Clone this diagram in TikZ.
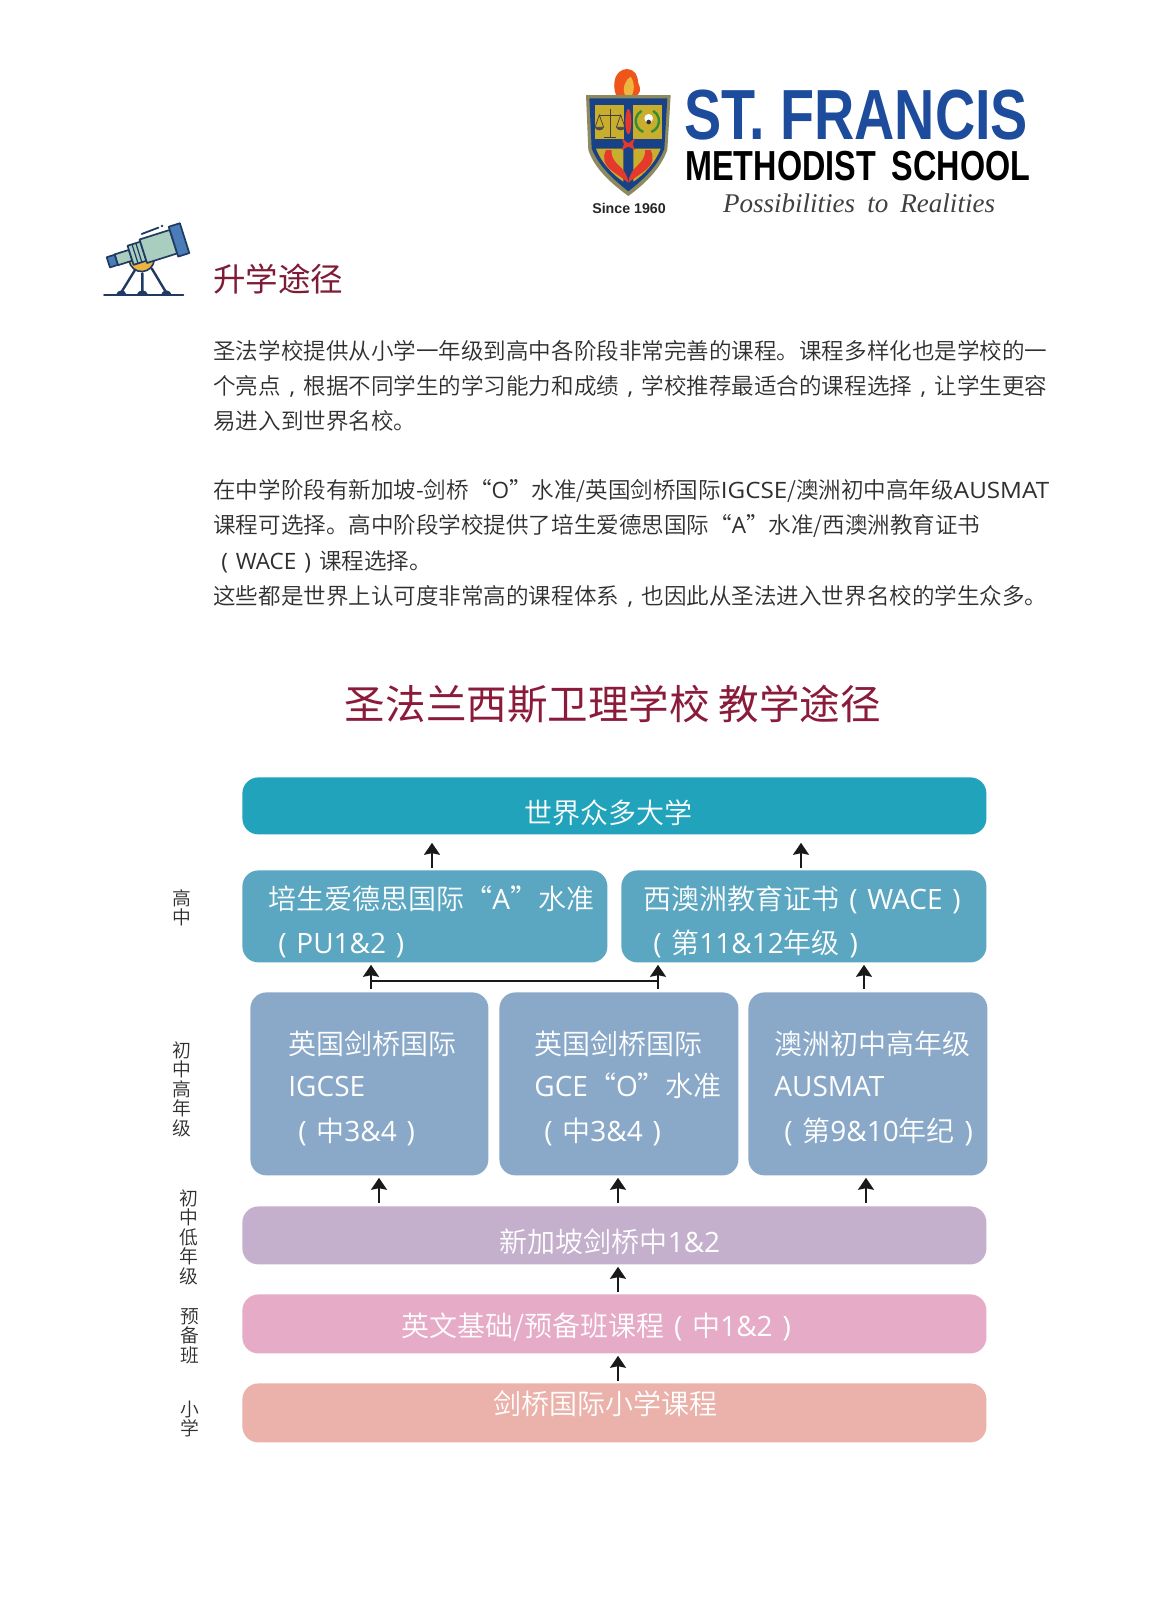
\documentclass[tikz,border=0pt]{standalone}
\usepackage{fontspec}
\usepackage{graphicx}
\usetikzlibrary{arrows.meta}
\IfFontExistsTF{Noto Sans CJK SC DemiLight}{\setmainfont{Noto Sans CJK SC DemiLight}}{\setmainfont{Noto Sans CJK SC}}
\newfontfamily\latf{Open Sans}
\newfontfamily\cjkreg{Noto Sans CJK SC}
\newfontfamily\logosans{Liberation Sans}
\newfontfamily\logoserif{Liberation Serif}
\newcommand{\lat}[1]{{\latf #1}}
\newcommand{\latw}[1]{\scalebox{1.075}[1]{\latf #1}}
\newcommand{\lpar}{\makebox[1em][c]{\latf(}}
\newcommand{\rpar}{\makebox[1em][c]{\latf)}}
\newcommand{\ccomma}{\makebox[1em][c]{\latf,}}
\definecolor{maroon}{HTML}{7E1C38}
\definecolor{titlered}{HTML}{8A1B3A}
\definecolor{bodygrey}{HTML}{2F2F2F}
\definecolor{cuni}{HTML}{21A3BC}
\definecolor{cpu}{HTML}{5BA6C1}
\definecolor{cig}{HTML}{8AA9C8}
\definecolor{csg}{HTML}{C4B0CD}
\definecolor{cen}{HTML}{E5ABC7}
\definecolor{cpri}{HTML}{EAB2AA}
\definecolor{navy}{HTML}{1F3B63}
\definecolor{scopeblue}{HTML}{4A7DB8}
\definecolor{scopegreen}{HTML}{A9CDBF}
\definecolor{scopegold}{HTML}{EDB53F}
\definecolor{logoblue}{HTML}{1D4C9C}
\definecolor{shieldgold}{HTML}{C9AE2E}
\definecolor{shieldedge}{HTML}{8C8A5E}
\definecolor{shieldred}{HTML}{E5392B}
\tikzset{
  box/.style={rounded corners=8pt,draw=none,inner sep=0pt,anchor=north west},
  bodyline/.style={anchor=west,inner sep=0pt,text=bodygrey,font=\fontsize{11.27pt}{13pt}\selectfont,text height=10pt,text depth=1.35pt},
  boxtext/.style={inner sep=0pt,text=white,font=\fontsize{14pt}{16pt}\selectfont,text height=12.3pt,text depth=1.7pt},
  sidelabel/.style={inner sep=0pt,text=bodygrey,align=center,font=\fontsize{9.4pt}{9.75pt}\selectfont},
  arr/.style={line width=0.8pt,black!90,-{Stealth[length=6pt,width=8pt,inset=0.8pt]}},
  link/.style={line width=0.8pt,black!90}
}
\begin{document}
\begin{tikzpicture}[x=0.5pt,y=-0.5pt]
\useasboundingbox (0,0) rectangle (1171,1600);
\fill[white] (0,0) rectangle (1171,1600);

% ---- logo (coordinates from a 3x view)
\begin{scope}[shift={(280pt,-25pt)},x=0.16667pt,y=-0.16667pt]
  \fill[shieldred!60!orange] (168,135) .. controls (155,100) and (165,60) .. (200,57) .. controls (228,60) and (232,75) .. (235,100) .. controls (245,120) and (238,130) .. (232,135) -- cycle;
  \fill[scopegold] (195,135) .. controls (185,112) and (198,88) .. (212,80) .. controls (226,100) and (222,125) .. (216,135) -- cycle;
  \fill[shieldedge] (78,135) -- (332,135) -- (322,300) .. controls (300,360) and (250,405) .. (205,438) .. controls (160,405) and (105,360) .. (85,300) -- cycle;
  \fill[logoblue!85!black] (88,145) -- (322,145) -- (313,296) .. controls (292,352) and (245,392) .. (205,424) .. controls (165,392) and (118,352) .. (95,296) -- cycle;
  \fill[shieldgold] (104,165) rectangle (192,268);
  \fill[shieldgold] (220,165) rectangle (306,268);
  \fill[shieldgold] (108,296) -- (190,296) -- (190,395) .. controls (160,375) and (125,340) .. (108,296) -- cycle;
  \fill[shieldgold] (302,296) -- (220,296) -- (220,395) .. controls (250,375) and (285,340) .. (302,296) -- cycle;
  % scale
  \draw[line width=0.4pt,black!75] (150,178) -- (150,262) (118,195) -- (182,195) (132,262) -- (168,262);
  \draw[line width=0.35pt,black!75] (118,195) -- (105,232) -- (131,232) -- cycle (182,195) -- (169,232) -- (195,232) -- cycle;
  \fill[black!70] (105,232) arc[start angle=180,end angle=0,x radius=13,y radius=9] -- cycle;
  \fill[black!70] (169,232) arc[start angle=180,end angle=0,x radius=13,y radius=9] -- cycle;
  % wreath
  \draw[line width=1.2pt,green!45!black!80] (262,213) ++(-120:35) arc[start angle=-120,end angle=-250,radius=35];
  \draw[line width=1.2pt,green!45!black!80] (262,213) ++(-60:35) arc[start angle=-60,end angle=70,radius=35];
  \fill[white] (266,205) circle[radius=13];
  \fill[black!80] (266,216) circle[radius=7];
  % torch and cross
  \fill[shieldred] (205,215) ellipse[x radius=9,y radius=38];
  \fill[shieldred] (205,280) -- (225,265) -- (218,283) -- (225,300) -- (205,290) -- (185,300) -- (192,283) -- (185,265) -- cycle;
  % flames
  \fill[shieldred] (138,300) .. controls (115,350) and (165,365) .. (205,398) .. controls (200,345) and (150,345) .. (155,300) -- cycle;
  \fill[shieldred] (272,300) .. controls (295,350) and (245,365) .. (205,398) .. controls (210,345) and (258,345) .. (255,300) -- cycle;
\end{scope}
\node[inner sep=0pt,text=black!85] (since) at (629,208) {\logosans\bfseries\fontsize{7.1pt}{9pt}\selectfont Since 1960};
\node[anchor=base west,inner sep=0pt,text=logoblue,text depth=0pt] (stf) at (684,140) {\scalebox{0.785}[1]{\logosans\bfseries\fontsize{35.5pt}{36pt}\selectfont ST. FRANCIS}};
\node[anchor=base west,inner sep=0pt,text=black,text depth=0pt] (mth) at (685,180) {\scalebox{0.77}[1]{\logosans\bfseries\fontsize{21pt}{22pt}\selectfont METHODIST\hspace{0.22em} SCHOOL}};
\node[anchor=center,inner sep=0pt,text=black!75] (motto) at (859,203) {\resizebox{136pt}{!}{\logoserif\itshape Possibilities\hspace{0.2em} to\hspace{0.2em} Realities}};

% ---- telescope (coordinates from a 3x view)
\begin{scope}[shift={(45pt,-105pt)},x=0.16667pt,y=-0.16667pt,line join=round,line cap=round]
  \draw[navy,line width=1.2pt] (135,180) -- (92,250) (157,190) -- (157,250) (185,175) -- (230,250);
  \fill[navy] (78,255) .. controls (85,236) and (105,236) .. (110,255) -- cycle;
  \fill[navy] (140,255) .. controls (147,236) and (168,236) .. (174,255) -- cycle;
  \fill[navy] (213,255) .. controls (220,236) and (238,236) .. (245,255) -- cycle;
  \draw[navy,line width=0.9pt] (42,255) -- (280,255);
  \draw[navy,fill=scopegold,line width=0.8pt] (117,150) arc[start angle=175,end angle=5,radius=38] -- cycle;
  \draw[navy,line width=0.9pt] (155,72) -- (205,53);
  \fill[navy] (216,48) circle[radius=4];
  \begin{scope}[shift={(55,157)},rotate=17.6,line width=0.85pt]
    \draw[navy,fill=scopegreen] (25,-17) rectangle (70,17);
    \draw[navy,fill=scopeblue] (0,-16) rectangle (25,16);
    \draw[navy,fill=scopegreen] (70,-30) rectangle (110,30);
    \draw[navy,line width=0.6pt] (84,-30) -- (84,30) (96,-30) -- (96,30);
    \draw[navy,fill=scopegreen] (110,-37) rectangle (205,37);
    \draw[navy,fill=scopeblue] (205,-47) rectangle (240,47);
  \end{scope}
\end{scope}

% ---- headings and body text
\node[anchor=west,inner sep=0pt,text=maroon,font=\cjkreg\fontsize{16.25pt}{18pt}\selectfont,text height=14.3pt,text depth=1.95pt] (head) at (213,279) {升学途径};
\node[bodyline] (t1) at (213,351) {圣法学校提供从小学一年级到高中各阶段非常完善的课程。课程多样化也是学校的一};
\node[bodyline] (t2) at (213,386) {个亮点\ccomma 根据不同学生的学习能力和成绩\ccomma 学校推荐最适合的课程选择\ccomma 让学生更容};
\node[bodyline] (t3) at (213,421) {易进入到世界名校。};
\node[bodyline] (t4) at (213,490) {在中学阶段有新加坡-剑桥“\lat{O}”水准/英国剑桥国际\latw{IGCSE}/澳洲初中高年级\latw{AUSMAT}};
\node[bodyline] (t5) at (213,525) {课程可选择。高中阶段学校提供了培生爱德思国际“\lat{A}”水准/西澳洲教育证书};
\node[bodyline] (t6) at (213,561) {\lpar\lat{WACE}\rpar 课程选择。};
\node[bodyline] (t7) at (213,596) {这些都是世界上认可度非常高的课程体系\ccomma 也因此从圣法进入世界名校的学生众多。};
\node[inner sep=0pt,text=titlered,font=\cjkreg\fontsize{20.27pt}{22pt}\selectfont,text height=17.8pt,text depth=2.47pt] (title) at (613,704) {圣法兰西斯卫理学校 教学途径};

% ---- pathway boxes
\node[box,fill=cuni,minimum width=372pt,minimum height=28.5pt] (uni) at (242,777) {};
\node[box,fill=cpu,minimum width=182.5pt,minimum height=46pt] (pu) at (242,870) {};
\node[box,fill=cpu,minimum width=182.5pt,minimum height=46pt] (wace) at (621,870) {};
\node[box,fill=cig,minimum width=119pt,minimum height=91.5pt] (ig) at (250,992) {};
\node[box,fill=cig,minimum width=119.5pt,minimum height=91.5pt] (gce) at (499,992) {};
\node[box,fill=cig,minimum width=119.5pt,minimum height=91.5pt] (aus) at (748,992) {};
\node[box,fill=csg,minimum width=372pt,minimum height=29pt] (sg) at (242,1206) {};
\node[box,fill=cen,minimum width=372pt,minimum height=29.5pt] (en) at (242,1294) {};
\node[box,fill=cpri,minimum width=372pt,minimum height=29.5pt] (pri) at (242,1383) {};

% ---- box texts
\node[boxtext] (tuni) at (608,813) {世界众多大学};
\node[boxtext,anchor=west] (tpu1) at (268,899) {培生爱德思国际“\lat{A}”水准};
\node[boxtext,anchor=west] (tpu2) at (268,943) {\lpar\lat{PU1\&2}\rpar};
\node[boxtext,anchor=west] (twa1) at (643,899) {西澳洲教育证书\lpar\lat{WACE}\rpar};
\node[boxtext,anchor=west] (twa2) at (643,943) {\lpar 第\lat{11\&12}年级\rpar};
\node[boxtext,anchor=west] (tig1) at (288,1044) {英国剑桥国际};
\node[boxtext,anchor=west] (tig2) at (288,1086) {\lat{IGCSE}};
\node[boxtext,anchor=west] (tig3) at (288,1131) {\lpar 中\lat{3\&4}\rpar};
\node[boxtext,anchor=west] (tgc1) at (534,1044) {英国剑桥国际};
\node[boxtext,anchor=west] (tgc2) at (534,1086) {\lat{GCE}“\lat{O}”水准};
\node[boxtext,anchor=west] (tgc3) at (534,1131) {\lpar 中\lat{3\&4}\rpar};
\node[boxtext,anchor=west] (tau1) at (774,1044) {澳洲初中高年级};
\node[boxtext,anchor=west] (tau2) at (774,1086) {\lat{AUSMAT}};
\node[boxtext,anchor=west] (tau3) at (774,1131) {\lpar 第\lat{9\&10}年纪\rpar};
\node[boxtext] (tsg) at (610,1242) {新加坡剑桥中\lat{1\&2}};
\node[boxtext] (ten) at (601,1326) {英文基础/预备班课程\lpar 中\lat{1\&2}\rpar};
\node[boxtext] (tpr) at (605,1404) {剑桥国际小学课程};

% ---- side labels
\node[sidelabel] (s1) at (182,908) {高\\中};
\node[sidelabel] (s2) at (182,1089) {初\\中\\高\\年\\级};
\node[sidelabel] (s3) at (189,1237) {初\\中\\低\\年\\级};
\node[sidelabel] (s4) at (190,1336) {预\\备\\班};
\node[sidelabel] (s5) at (190,1419) {小\\学};

% ---- connector columns
\coordinate (xa) at (432,0);
\coordinate (xb) at (801,0);
\coordinate (xc) at (371,0);
\coordinate (xd) at (658,0);
\coordinate (xe) at (864,0);
\coordinate (xf) at (379,0);
\coordinate (xg) at (618,0);
\coordinate (xh) at (866,0);
\coordinate (jl) at (371,981);
\coordinate (jr) at (658,981);

\draw[arr,shorten <=1pt,shorten >=4pt] (xa |- pu.north) -- (xa |- uni.south);
\draw[arr,shorten <=1pt,shorten >=4pt] (xb |- wace.north) -- (xb |- uni.south);
\draw[arr,shorten <=1.5pt,shorten >=1pt] (xc |- ig.north) -- (xc |- pu.south);
\draw[arr,shorten <=1.5pt,shorten >=1pt] (xd |- gce.north) -- (xd |- wace.south);
\draw[arr,shorten <=1.5pt,shorten >=1pt] (xe |- aus.north) -- (xe |- wace.south);
\draw[link] (jl) -- (jr);
\draw[arr,shorten <=1.5pt,shorten >=1pt] (xf |- sg.north) -- (xf |- ig.south);
\draw[arr,shorten <=1.5pt,shorten >=1pt] (xg |- sg.north) -- (xg |- gce.south);
\draw[arr,shorten <=1.5pt,shorten >=1pt] (xh |- sg.north) -- (xh |- aus.south);
\draw[arr,shorten <=1pt,shorten >=1pt] (xg |- en.north) -- (xg |- sg.south);
\draw[arr,shorten <=1pt,shorten >=1pt] (xg |- pri.north) -- (xg |- en.south);
\end{tikzpicture}
\end{document}
